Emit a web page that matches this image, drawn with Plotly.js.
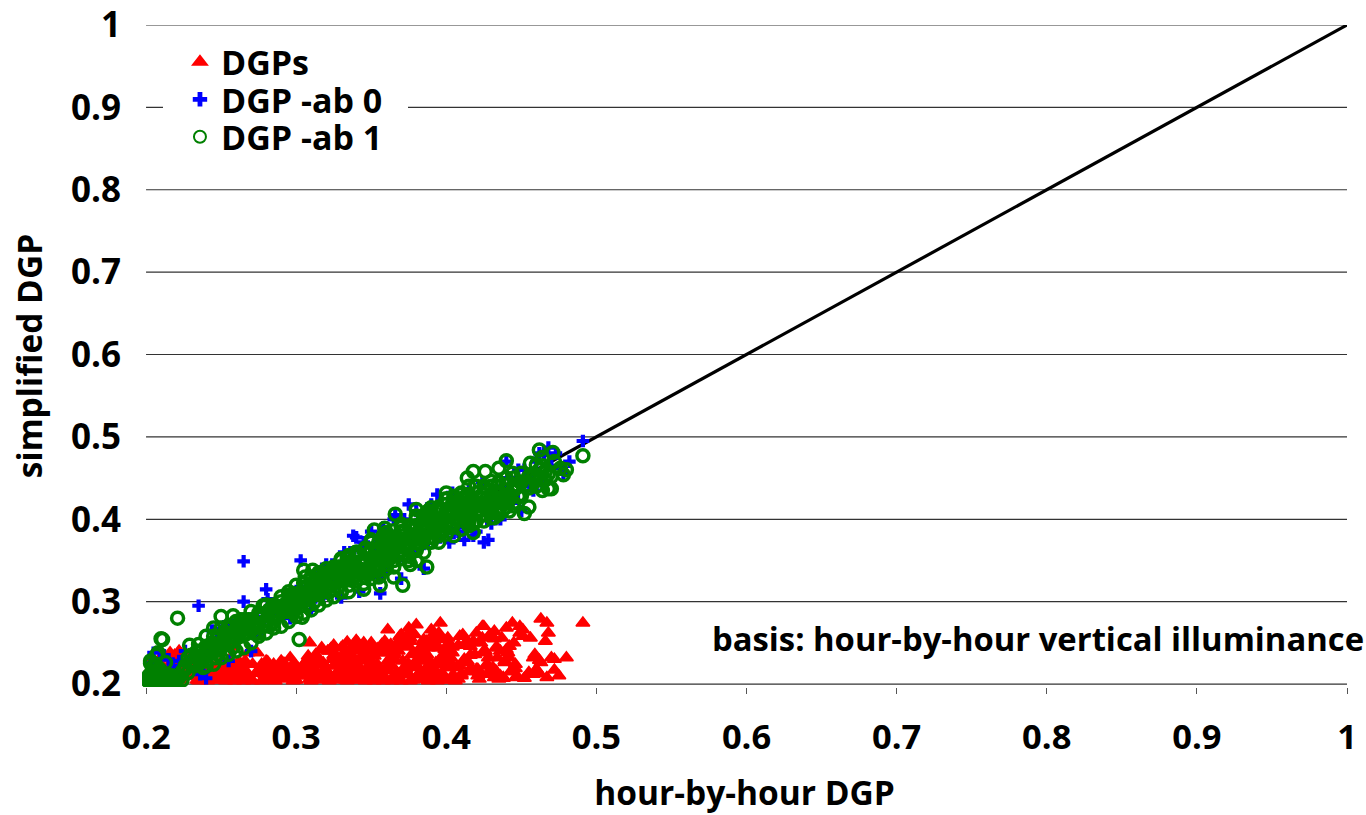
<!DOCTYPE html>
<html><head><meta charset="utf-8">
<script src="https://cdn.plot.ly/plotly-3.0.1.min.js"></script>
<style>html,body{margin:0;padding:0;background:#fff}#c{width:1366px;height:815px}</style>
</head><body><div id="c"></div>
<script>
const xTicks=[0.2,0.3,0.4,0.5,0.6,0.7,0.8,0.9,1];
const tickLabels=["0.2","0.3","0.4","0.5","0.6","0.7","0.8","0.9","1"];
const diagX=[0.2,1], diagY=[0.2,1];

const dgpsX=[.201,.203,.205,.207,.209,.211,.213,.215,.217,.219,.221,.223,.202,.204,.206,.208,.21,.212,.214,.216,.218,.22,.222,.224,.226,.228,.23,.232,.234,.236,.238,.24,.242,.244,.246,.248,.25,.252,.254,.256,.258,.26,.262,.264,.266,.268,.236,.24,.245,.25,.254,.258,.262,.266,.27,.278,.282,.286,.29,.294,.298,.302,.306,.31,.276,.28,.284,.288,.292,.296,.3,.304,.285,.292,.298,.312,.316,.32,.324,.328,.332,.336,.34,.344,.348,.352,.356,.31,.314,.318,.322,.326,.33,.334,.338,.342,.346,.35,.354,.318,.322,.326,.33,.334,.338,.342,.346,.35,.354,.358,.33,.335,.34,.345,.35,.325,.332,.36,.364,.368,.372,.376,.38,.384,.388,.392,.396,.4,.404,.408,.36,.364,.368,.372,.376,.38,.384,.388,.392,.396,.4,.404,.362,.366,.37,.374,.378,.382,.386,.39,.394,.398,.402,.368,.372,.376,.38,.384,.388,.392,.396,.4,.375,.38,.385,.39,.396,.398,.41,.414,.418,.422,.426,.43,.434,.438,.442,.446,.41,.414,.418,.422,.426,.43,.434,.438,.442,.446,.412,.416,.42,.424,.428,.432,.436,.44,.425,.432,.444,.451,.449,.452,.456,.458,.462,.467,.472,.48,.462,.467,.463,.458,.46,.466,.468,.472,.447,.451,.491,.408,.404];
const dgpsY=[.212,.218,.222,.208,.226,.214,.231,.206,.224,.235,.212,.237,.204,.228,.21,.217,.233,.206,.22,.238,.208,.228,.24,.205,.215,.224,.209,.236,.205,.217,.21,.212,.206,.218,.208,.215,.205,.219,.21,.216,.206,.212,.222,.208,.217,.238,.225,.23,.22,.226,.216,.222,.214,.228,.206,.205,.222,.212,.228,.207,.22,.211,.226,.206,.216,.228,.207,.22,.214,.232,.205,.219,.21,.225,.218,.212,.224,.206,.23,.216,.238,.208,.225,.245,.214,.234,.207,.218,.232,.212,.24,.205,.226,.216,.247,.208,.236,.22,.243,.226,.21,.236,.219,.251,.205,.23,.214,.25,.224,.238,.244,.218,.253,.228,.209,.235,.21,.206,.222,.24,.212,.252,.207,.232,.218,.258,.21,.226,.245,.206,.22,.235,.25,.214,.264,.228,.206,.244,.216,.255,.23,.21,.24,.212,.26,.224,.205,.238,.218,.266,.208,.232,.248,.21,.22,.256,.206,.235,.214,.262,.226,.246,.268,.272,.24,.252,.274,.236,.21,.228,.25,.206,.238,.216,.244,.208,.232,.224,.212,.226,.252,.214,.24,.258,.232,.207,.246,.219,.248,.235,.262,.27,.222,.255,.21,.242,.27,.264,.274,.258,.27,.207,.256,.212,.213,.208,.23,.232,.229,.274,.279,.232,.218,.252,.262,.217,.208,.266,.274,.247,.238,.218];
const dgpsFillX=[.243,.247,.251,.255,.259,.263,.267,.271,.275,.279,.283,.287,.291,.295,.299,.303,.307,.241,.245,.249,.253,.257,.261,.265,.269,.273,.277,.281,.285,.289,.293,.297,.301,.305,.309,.237,.233,.229,.225,.249,.255,.261,.281,.287,.293,.299,.305,.308,.309,.311,.313,.315,.317,.319,.321,.323,.325,.327,.329,.331,.333,.335,.337,.339,.341,.343,.345,.347,.349,.351,.353,.355,.357,.359,.311,.315,.319,.323,.327,.331,.335,.339,.343,.347,.351,.355,.359,.313,.317,.321,.325,.329,.333,.337,.341,.345,.349,.353,.357,.361,.363,.365,.367,.369,.371,.373,.375,.377,.379,.381,.383,.385,.387,.389,.391,.393,.395,.397,.399,.401,.403,.405,.361,.365,.369,.373,.377,.381,.385,.389,.393,.397,.401,.363,.367,.371,.375,.379,.383,.387,.391,.395,.399,.403,.407,.409,.365,.37,.375,.38,.385,.39,.395,.4,.405,.411,.413,.415,.417,.419,.421,.423,.425,.427,.429,.431,.433,.435,.437,.439,.441,.443,.445,.447,.449,.412,.416,.42,.424,.428,.432,.436,.44,.444,.455,.459,.463,.47,.475];
const dgpsFillY=[.222,.21,.224,.207,.225,.211,.224,.213,.212,.219,.208,.226,.21,.224,.213,.227,.212,.206,.219,.206,.223,.21,.219,.207,.213,.224,.209,.224,.216,.206,.222,.212,.224,.206,.233,.231,.226,.218,.224,.229,.226,.227,.214,.22,.205,.21,.234,.25,.224,.236,.21,.242,.219,.24,.21,.244,.226,.214,.246,.205,.229,.243,.215,.24,.212,.25,.23,.208,.246,.218,.238,.212,.252,.216,.228,.208,.243,.226,.212,.236,.23,.21,.24,.226,.208,.246,.23,.244,.214,.247,.206,.23,.224,.25,.233,.224,.21,.248,.228,.248,.236,.208,.254,.228,.218,.246,.206,.26,.24,.216,.254,.236,.208,.25,.226,.262,.214,.242,.256,.232,.21,.266,.238,.258,.215,.236,.208,.248,.228,.206,.254,.22,.242,.212,.25,.245,.226,.23,.252,.214,.244,.205,.24,.22,.258,.23,.246,.224,.206,.252,.244,.256,.238,.222,.26,.228,.25,.215,.236,.21,.25,.24,.212,.26,.22,.244,.206,.256,.228,.238,.215,.25,.21,.262,.23,.246,.218,.256,.232,.208,.24,.268,.218,.214,.236,.226,.232,.21,.24,.22,.206,.22,.245,.262,.21,.238];
const dgpsLowX=[.232,.238,.244,.25,.256,.262,.268,.274,.28,.286,.292,.298,.304,.31,.316,.322,.328,.334,.34,.346,.352,.358,.364,.37,.376,.382,.388,.394,.4,.406,.235,.241,.247,.253,.259,.265,.271,.277,.283,.289,.295,.301,.307,.313,.319,.325,.331,.337,.343,.349,.355,.361,.367,.373,.379,.385,.391,.397,.403,.409,.415,.421,.427,.433,.439];
const dgpsLowY=[.205,.204,.213,.204,.213,.204,.205,.204,.213,.204,.205,.204,.204,.204,.204,.204,.204,.213,.204,.204,.205,.204,.204,.204,.205,.204,.204,.204,.204,.204,.212,.216,.213,.22,.21,.216,.218,.222,.21,.216,.218,.222,.218,.216,.214,.22,.22,.214,.22,.224,.22,.222,.216,.218,.224,.216,.226,.214,.22,.22,.222,.218,.22,.218,.222];

const ab0X=[.203,.205,.208,.212,.215,.218,.222,.226,.23,.235,.238,.241,.244,.248,.25,.255,.258,.262,.265,.265,.27,.272,.276,.28,.281,.284,.288,.292,.296,.3,.303,.303,.306,.31,.314,.318,.32,.325,.328,.332,.335,.338,.342,.345,.348,.352,.356,.36,.362,.365,.368,.372,.375,.378,.382,.385,.39,.392,.396,.4,.404,.408,.41,.415,.418,.42,.424,.428,.43,.434,.438,.44,.444,.448,.45,.454,.458,.46,.465,.468,.473,.478,.482,.491,.37,.356,.31,.342,.33,.396,.405,.445,.425,.412,.385,.36,.236,.24,.252,.268,.274,.29,.298,.316,.324,.336,.34,.35,.358,.366,.372,.38,.388,.394,.402,.412,.42,.43,.436,.442,.452,.456,.462,.47,.464,.476];
const ab0Y=[.225,.238,.212,.235,.23,.222,.228,.24,.232,.295,.215,.24,.265,.262,.258,.228,.272,.27,.349,.3,.24,.282,.275,.315,.303,.29,.285,.298,.28,.305,.35,.318,.31,.3,.33,.305,.345,.33,.322,.36,.348,.38,.338,.372,.345,.368,.33,.365,.385,.4,.35,.37,.418,.36,.38,.37,.418,.388,.395,.4,.432,.385,.41,.435,.38,.42,.445,.375,.43,.42,.44,.47,.42,.46,.41,.45,.435,.47,.478,.487,.48,.455,.47,.495,.328,.31,.29,.312,.305,.378,.383,.428,.372,.39,.34,.342,.212,.207,.27,.27,.262,.29,.29,.335,.345,.36,.378,.385,.39,.405,.4,.41,.395,.43,.372,.375,.385,.395,.4,.45,.46,.44,.48,.465,.445,.462];

const ab1X=[.201,.202,.203,.204,.205,.206,.207,.208,.209,.21,.211,.212,.213,.214,.215,.216,.217,.218,.22,.203,.205,.207,.209,.211,.213,.207,.203,.21,.208,.221,.229,.224,.228,.232,.236,.24,.244,.226,.23,.234,.238,.242,.246,.25,.254,.258,.248,.252,.256,.26,.264,.268,.25,.258,.263,.271,.278,.272,.276,.28,.284,.288,.292,.296,.3,.304,.282,.286,.29,.294,.298,.302,.306,.31,.314,.302,.305,.306,.311,.304,.308,.312,.316,.32,.324,.328,.332,.336,.34,.318,.322,.326,.33,.334,.338,.342,.346,.35,.354,.358,.33,.334,.338,.342,.346,.35,.354,.358,.362,.366,.37,.374,.378,.382,.386,.345,.35,.356,.36,.365,.371,.376,.38,.387,.366,.352,.359,.36,.364,.368,.372,.376,.38,.384,.388,.392,.396,.4,.404,.408,.372,.376,.38,.384,.388,.392,.396,.4,.404,.408,.412,.416,.42,.424,.38,.39,.395,.405,.41,.414,.419,.4,.414,.418,.426,.435,.44,.444,.412,.416,.42,.424,.428,.432,.436,.44,.444,.448,.418,.424,.43,.436,.442,.448,.432,.438,.45,.452,.455,.46,.464,.458,.462,.466,.47,.456,.46,.464,.468,.472,.476,.48,.468,.462,.471,.464,.491,.478];
const ab1Y=[.205,.21,.204,.215,.208,.212,.206,.218,.204,.214,.208,.21,.206,.212,.205,.208,.21,.206,.208,.228,.222,.235,.218,.254,.226,.222,.225,.255,.238,.28,.247,.215,.232,.222,.238,.228,.242,.218,.235,.24,.22,.246,.232,.25,.262,.245,.258,.26,.268,.256,.265,.272,.282,.283,.278,.272,.295,.262,.28,.272,.288,.284,.296,.29,.305,.3,.27,.28,.292,.298,.288,.31,.302,.316,.312,.254,.338,.33,.338,.281,.296,.3,.316,.32,.33,.318,.342,.348,.338,.322,.312,.335,.325,.352,.345,.358,.35,.364,.36,.372,.312,.345,.328,.34,.33,.352,.345,.36,.352,.368,.362,.376,.38,.37,.39,.315,.328,.32,.34,.33,.32,.345,.35,.342,.406,.387,.389,.36,.375,.37,.385,.378,.392,.388,.398,.395,.41,.405,.418,.41,.358,.37,.365,.38,.372,.388,.382,.395,.39,.402,.398,.412,.408,.425,.412,.402,.415,.428,.425,.43,.417,.432,.45,.458,.458,.462,.471,.456,.415,.422,.41,.42,.415,.425,.43,.42,.435,.44,.384,.405,.402,.415,.41,.428,.402,.42,.445,.407,.415,.44,.435,.452,.46,.448,.437,.468,.45,.465,.455,.47,.462,.46,.437,.484,.481,.475,.477,.454];
const ab1FillX=[.202,.206,.21,.214,.218,.222,.204,.208,.212,.216,.22,.224,.226,.23,.234,.238,.242,.246,.25,.254,.258,.262,.266,.27,.274,.228,.232,.236,.24,.244,.248,.252,.256,.26,.264,.268,.272,.276,.28,.284,.288,.292,.296,.3,.304,.308,.312,.278,.282,.286,.29,.294,.298,.302,.306,.31,.314,.318,.322,.326,.33,.334,.338,.342,.316,.32,.324,.328,.332,.336,.34,.344,.348,.352,.356,.36,.364,.368,.372,.346,.35,.354,.358,.362,.366,.37,.374,.378,.382,.386,.39,.394,.398,.402,.406,.41,.376,.38,.384,.388,.392,.396,.4,.404,.408,.412,.416,.42,.424,.428,.432,.436,.44,.444,.414,.418,.422,.426,.43,.434,.438,.442,.446,.45,.454,.458,.462,.466,.47,.31,.325,.34,.355,.37,.385,.4,.415,.43,.445,.46,.3,.32,.345,.365,.385,.405,.425,.445,.27,.285,.295,.315,.335,.355,.375,.395,.415,.435];
const ab1FillY=[.203,.204,.206,.204,.204,.208,.207,.203,.204,.203,.204,.205,.222,.228,.232,.232,.238,.24,.244,.248,.252,.26,.26,.265,.272,.214,.226,.226,.246,.25,.236,.252,.258,.266,.27,.278,.268,.284,.278,.282,.294,.288,.304,.296,.31,.312,.308,.285,.29,.295,.3,.288,.31,.3,.318,.322,.32,.328,.325,.336,.33,.342,.34,.348,.31,.33,.34,.342,.335,.335,.355,.345,.358,.342,.355,.35,.362,.358,.37,.365,.372,.36,.38,.368,.378,.375,.368,.388,.38,.385,.378,.395,.388,.392,.4,.405,.39,.4,.395,.41,.39,.4,.418,.405,.422,.408,.42,.418,.43,.41,.425,.425,.43,.435,.402,.395,.41,.438,.42,.44,.412,.428,.438,.43,.442,.455,.448,.458,.452,.31,.325,.342,.365,.385,.405,.41,.44,.43,.438,.45,.3,.318,.335,.35,.375,.395,.415,.42,.278,.275,.308,.335,.32,.338,.355,.38,.398,.41];
const ab1BandX=[.235,.24,.245,.25,.255,.26,.265,.27,.275,.28,.285,.29,.295,.3,.305,.31,.315,.32,.325,.33,.335,.34,.345,.35,.355,.36,.365,.37,.375,.38,.385,.39,.395,.4,.405,.41,.415,.42,.425,.43,.435,.44,.445,.45,.245,.255,.265,.275,.285,.295,.305,.315,.325,.335,.345,.355,.365,.375,.385,.395,.405,.415,.425,.435,.445,.455,.33,.34,.35,.36,.37,.38,.39,.4,.41,.42,.43,.44,.31,.32,.33,.34,.35,.36,.37,.38,.39,.4,.41,.42,.43];
const ab1BandY=[.248,.222,.258,.232,.27,.24,.278,.25,.286,.262,.296,.27,.312,.282,.322,.29,.332,.302,.342,.312,.356,.325,.362,.336,.372,.345,.386,.352,.392,.362,.402,.372,.412,.382,.42,.388,.428,.398,.44,.408,.445,.415,.45,.428,.268,.252,.268,.262,.282,.3,.302,.322,.315,.33,.35,.352,.372,.378,.392,.398,.41,.418,.418,.432,.435,.452,.352,.36,.346,.378,.39,.392,.408,.395,.43,.432,.44,.442,.328,.335,.342,.332,.375,.368,.385,.382,.405,.425,.418,.41,.418];
const ab1EdgeX=[.24,.25,.26,.27,.28,.29,.3,.31,.32,.33,.34,.35,.36,.37,.38,.39,.4,.41,.42,.43,.44,.45,.46,.245,.255,.265,.275,.285,.295,.305,.315,.325,.335,.345,.355,.365,.375,.385,.395,.405,.415,.425,.435,.445,.455,.322,.332,.342,.352,.362,.372,.382,.392,.402,.412,.422,.432,.442];
const ab1EdgeY=[.258,.268,.276,.288,.296,.306,.32,.33,.34,.35,.36,.372,.384,.394,.404,.414,.424,.432,.44,.446,.45,.456,.466,.224,.236,.244,.258,.268,.276,.286,.296,.306,.312,.322,.33,.342,.35,.36,.372,.38,.392,.398,.406,.416,.438,.318,.328,.335,.338,.358,.368,.372,.384,.392,.402,.412,.418,.424];

const data=[
 {x:diagX,y:diagY,mode:'lines',line:{color:'#000',width:3.2},showlegend:false,hoverinfo:'skip'},
 {name:'DGPs',x:dgpsX.concat(dgpsFillX,dgpsLowX),y:dgpsY.concat(dgpsFillY,dgpsLowY),mode:'markers',marker:{symbol:'triangle-up',color:'#ff0000',size:12,line:{color:'#ff0000',width:1.5}}},
 {name:'DGP -ab 0',x:ab0X,y:ab0Y,mode:'markers',marker:{symbol:'cross',color:'#0000ff',size:10.5,line:{color:'#0000ff',width:0}}},
 {name:'DGP -ab 1',x:ab1X.concat(ab1FillX,ab1BandX,ab1EdgeX),y:ab1Y.concat(ab1FillY,ab1BandY,ab1EdgeY),mode:'markers',marker:{symbol:'circle-open',color:'#008000',size:12,line:{color:'#008000',width:3.5}}}
];
const F='"Open Sans","Noto Sans",sans-serif';
const gridShapes=xTicks.map(v=>({type:'line',layer:'below',xref:'x',yref:'y',x0:.2,x1:1,y0:v,y1:v,line:{color:'#333',width:1.2}}));
const layout={
 width:1366,height:815,paper_bgcolor:'#fff',plot_bgcolor:'#fff',
 margin:{l:142,r:19,t:25,b:128},
 font:{family:F,color:'#000',size:33,weight:700},
 showlegend:true,
 legend:{x:.0174,xanchor:'left',y:.9876,yanchor:'top',bgcolor:'#fff',borderwidth:0,itemsizing:'constant',itemwidth:48,tracegroupgap:0,font:{family:F,size:34,weight:700,color:'#000'}},
 xaxis:{range:[.1973,1],tickmode:'array',tickvals:xTicks,ticktext:tickLabels,showgrid:false,zeroline:false,showline:false,ticks:'outside',ticklen:6,tickwidth:1,tickcolor:'#555',ticklabelstandoff:14,tickfont:{family:F,size:34.5,weight:700},
  title:{text:'hour-by-hour DGP',standoff:23,font:{family:F,size:33.5,weight:700}}},
 yaxis:{range:[.1964,1],tickmode:'array',tickvals:xTicks,ticktext:tickLabels,showgrid:false,zeroline:false,showline:false,ticks:'',ticklabelstandoff:20,tickfont:{family:F,size:35,weight:700},
  title:{text:'simplified DGP',standoff:18,font:{family:F,size:33.5,weight:700}}},
 shapes:gridShapes,
 annotations:[{xref:'paper',yref:'y',x:1.016,y:.255,xanchor:'right',yanchor:'middle',showarrow:false,text:'basis: hour-by-hour vertical illuminance',font:{family:F,size:32.8,weight:700,color:'#000'}}]
};
Plotly.newPlot('c',data,layout,{displayModeBar:false,staticPlot:true}).then(()=>{
 const rows=document.querySelectorAll('#c .legend .traces');
 const y0=rows.length?+(rows[0].getAttribute('transform').match(/,\s*([\d.\-]+)/)||[0,0])[1]:0;
 rows.forEach((r,i)=>{
  r.setAttribute('transform','translate(0,'+(y0+i*37.5)+')');
  const p=r.querySelector('.legendpoints');
  if(p)p.setAttribute('transform','translate(8,0)');
 });
 const bg=document.querySelector('#c .legend .bg');
 if(bg)bg.setAttribute('width','245');
 const clip=document.querySelector('#c .legend .scrollbox');
 document.querySelectorAll('[id^="legend"] rect').forEach(r=>r.setAttribute('width','245'));
});
</script></body></html>
